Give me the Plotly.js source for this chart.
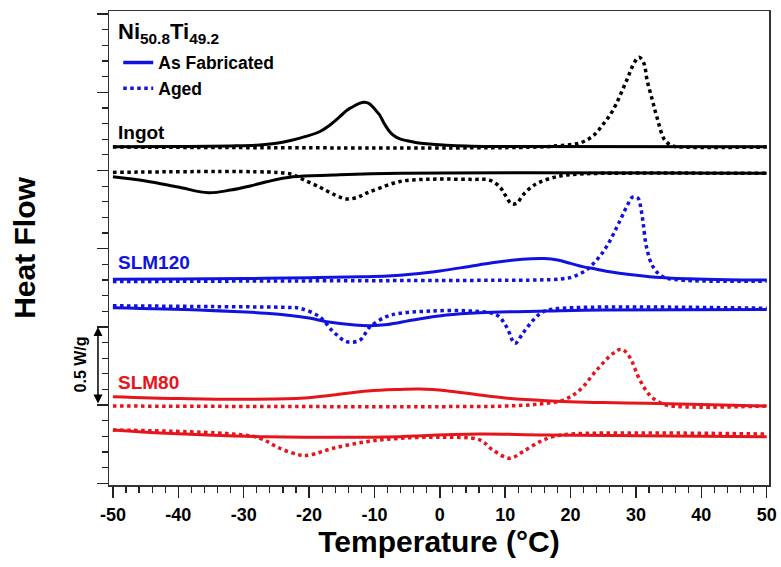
<!DOCTYPE html>
<html>
<head>
<meta charset="utf-8">
<script src="https://cdn.plot.ly/plotly-3.0.1.min.js"></script>
<style>
html,body{margin:0;padding:0;background:#fff;}
#chart{width:781px;height:567px;}
</style>
</head>
<body>
<div id="chart"></div>
<script>
// Temperature (°C) and stacked heat flow (W/g, offset)
const ingotHeatSolidT = [-50,-40,-32,-28,-25,-22.5,-20.5,-18.4,-17,-15.3,-14.2,-13.3,-12.3,-11.5,-10.8,-10.2,-9.6,-9.2,-8.5,-7.6,-7,-6.2,-5,-3.5,-1.5,1,4,8,50];
const ingotHeatSolidY = [2.152,2.153,2.157,2.162,2.174,2.195,2.218,2.248,2.285,2.344,2.385,2.408,2.429,2.436,2.428,2.405,2.375,2.355,2.300,2.245,2.222,2.204,2.190,2.178,2.170,2.162,2.156,2.153,2.152];

const ingotHeatAgedT = [-50,15,18.4,21.4,23.4,25,26.5,28.6,29.8,30.5,31.2,31.7,32.5,33.2,34.4,35.6,37,50];
const ingotHeatAgedY = [2.150,2.150,2.160,2.176,2.220,2.297,2.387,2.579,2.694,2.724,2.687,2.579,2.451,2.342,2.195,2.157,2.150,2.150];

const ingotCoolSolidT = [-50,-45,-40,-35.4,-32,-29,-26.5,-22.5,-16.3,-6,50];
const ingotCoolSolidY = [1.960,1.933,1.894,1.858,1.875,1.901,1.928,1.960,1.971,1.982,1.982];

const ingotCoolAgedT = [-50,-25,-22.5,-21.4,-18.4,-16,-14.2,-12.5,-11.2,-9.2,-6.1,-2.6,1,5,7.6,9.2,10,11,11.8,12.7,14,15.3,18.4,21.4,25,50];
const ingotCoolAgedY = [1.988,1.988,1.974,1.952,1.894,1.843,1.818,1.830,1.856,1.888,1.930,1.943,1.945,1.943,1.939,1.894,1.843,1.786,1.792,1.843,1.894,1.926,1.965,1.977,1.982,1.982];

const slm120HeatSolidT = [-50,-40,-30,-20,-12,-8,-4,0,4,8,11,14,16,18,20,22,24,26,29,33,38,44,50];
const slm120HeatSolidY = [1.304,1.306,1.309,1.315,1.320,1.325,1.338,1.358,1.383,1.410,1.426,1.436,1.437,1.428,1.406,1.384,1.369,1.353,1.335,1.318,1.308,1.302,1.300];

const slm120HeatAgedT = [-50,-30,0,15,18.5,20.4,22.4,24,25.5,27.6,28.7,29.5,30.3,30.8,31.1,31.6,32.6,34.1,36.7,50];
const slm120HeatAgedY = [1.290,1.293,1.297,1.300,1.306,1.321,1.364,1.428,1.513,1.683,1.779,1.830,1.824,1.747,1.664,1.513,1.385,1.321,1.300,1.293];

const slm120CoolSolidT = [-50,-36.8,-26.6,-20,-17.3,-13,-10.7,-8,-4.1,1,6.1,16.3,25,50];
const slm120CoolSolidY = [1.123,1.108,1.087,1.057,1.033,1.012,1.008,1.015,1.044,1.076,1.091,1.101,1.108,1.111];

const slm120CoolAgedT = [-50,-35,-23,-21.4,-18.4,-16.3,-14.2,-12.2,-10.7,-8.2,-6.1,-1.5,4.1,8.7,10.2,11.5,12.7,14.3,15.8,18,50];
const slm120CoolAgedY = [1.135,1.130,1.124,1.119,1.065,0.969,0.905,0.916,0.999,1.065,1.087,1.101,1.103,1.076,1.001,0.895,0.959,1.044,1.097,1.117,1.119];

const slm80HeatSolidT = [-50,-40,-31.6,-21.4,-16.3,-11,-6.1,-3,1,6.1,10,16.3,25,31.6,40,50];
const slm80HeatSolidY = [0.554,0.542,0.537,0.543,0.564,0.590,0.600,0.603,0.592,0.564,0.545,0.528,0.516,0.511,0.504,0.494];

const slm80HeatAgedT = [-50,0,10,15.3,18.9,21.4,24,26.5,27.8,29,30.6,32.1,34.1,36.7,50];
const slm80HeatAgedY = [0.494,0.490,0.494,0.507,0.532,0.596,0.724,0.831,0.857,0.809,0.660,0.564,0.507,0.490,0.494];

const slm80CoolSolidT = [-50,-41.9,-26.6,-6.1,-4.1,6.1,16.3,50];
const slm80CoolSolidY = [0.341,0.320,0.298,0.298,0.302,0.315,0.309,0.298];

const slm80CoolAgedT = [-50,-31.6,-27.5,-24.5,-21.4,-19.9,-16.3,-11.2,-6.1,0,6.1,8.1,10.7,12.7,15.3,17.3,20,50];
const slm80CoolAgedY = [0.341,0.315,0.288,0.224,0.181,0.181,0.224,0.266,0.288,0.294,0.277,0.213,0.160,0.202,0.266,0.298,0.315,0.315];

const xTicks = [-50,-40,-30,-20,-10,0,10,20,30,40,50];
const yTicks = [0,0.5,1.0,1.5,2.0,2.5,3.0];

const BLACK = '#000000', BLUE = '#1212e0', RED = '#e8141c';

function tr(x, y, color, dotted) {
  return {
    x: x, y: y, type: 'scatter', mode: 'lines', showlegend: false, hoverinfo: 'skip',
    line: {color: color, width: dotted ? 3.5 : 3, dash: dotted ? 'dot' : 'solid', shape: 'spline', smoothing: 1}
  };
}

const data = [
  tr(ingotHeatAgedT, ingotHeatAgedY, BLACK, true),
  tr(ingotHeatSolidT, ingotHeatSolidY, BLACK, false),
  tr(ingotCoolAgedT, ingotCoolAgedY, BLACK, true),
  tr(ingotCoolSolidT, ingotCoolSolidY, BLACK, false),
  tr(slm120HeatAgedT, slm120HeatAgedY, BLUE, true),
  tr(slm120HeatSolidT, slm120HeatSolidY, BLUE, false),
  tr(slm120CoolAgedT, slm120CoolAgedY, BLUE, true),
  tr(slm120CoolSolidT, slm120CoolSolidY, BLUE, false),
  tr(slm80HeatAgedT, slm80HeatAgedY, RED, true),
  tr(slm80HeatSolidT, slm80HeatSolidY, RED, false),
  tr(slm80CoolAgedT, slm80CoolAgedY, RED, true),
  tr(slm80CoolSolidT, slm80CoolSolidY, RED, false),
  {x:[null], y:[null], type:'scatter', mode:'lines', name:'As Fabricated', showlegend:true,
   line:{color:BLUE, width:3.5, dash:'solid'}},
  {x:[null], y:[null], type:'scatter', mode:'lines', name:'Aged', showlegend:true,
   line:{color:BLUE, width:3.5, dash:'dot'}}
];

const FONT = 'Liberation Sans, Arial, sans-serif';

const layout = {
  width: 781, height: 567,
  margin: {l: 109, r: 12, t: 11, b: 82},
  paper_bgcolor: '#fff', plot_bgcolor: '#fff',
  font: {family: FONT, color: '#000'},
  showlegend: true,
  legend: {
    x: 0.014, y: 0.929, xanchor: 'left', yanchor: 'top',
    bgcolor: 'rgba(0,0,0,0)', borderwidth: 0,
    font: {family: FONT, size: 17.5, weight: 'bold', color: '#000'},
    itemwidth: 30, tracegroupgap: 0
  },
  xaxis: {
    range: [-50.6, 50.35],
    tickvals: xTicks, ticktext: xTicks.map(String),
    ticks: 'outside', ticklen: 11, tickwidth: 1.5, tickcolor: '#222',
    minor: {dtick: 2, ticks: 'outside', ticklen: 6, tickwidth: 1.2, tickcolor: '#222', showgrid: false},
    showline: true, linecolor: '#333', linewidth: 1.5, mirror: true,
    showgrid: false, zeroline: false,
    tickfont: {family: FONT, size: 18, weight: 'bold', color: '#000'},
    ticklabelstandoff: 2,
    title: {text: 'Temperature (°C)', font: {family: FONT, size: 30, weight: 'bold', color: '#000'}, standoff: 5}
  },
  yaxis: {
    range: [-0.011, 3.020],
    tickvals: yTicks, showticklabels: false,
    ticks: 'outside', ticklen: 11, tickwidth: 1.5, tickcolor: '#222',
    minor: {dtick: 0.1, ticks: 'outside', ticklen: 6, tickwidth: 1.2, tickcolor: '#222', showgrid: false},
    showline: true, linecolor: '#333', linewidth: 1.5, mirror: true,
    showgrid: false, zeroline: false,
    title: {text: 'Heat Flow', font: {family: FONT, size: 30, weight: 'bold', color: '#000'}, standoff: 52}
  },
  annotations: [
    {xref: 'paper', yref: 'paper', x: 0.010, y: 0.953, xanchor: 'left', yanchor: 'middle', showarrow: false,
     text: 'Ni<sub>50.8</sub>Ti<sub>49.2</sub>', font: {family: FONT, size: 22, weight: 'bold', color: '#000'}},
    {xref: 'x', yref: 'y', x: -49.6, y: 2.24, xanchor: 'left', yanchor: 'middle', showarrow: false,
     text: 'Ingot', font: {family: FONT, size: 19, weight: 'bold', color: BLACK}},
    {xref: 'x', yref: 'y', x: -49.6, y: 1.409, xanchor: 'left', yanchor: 'middle', showarrow: false,
     text: 'SLM120', font: {family: FONT, size: 19, weight: 'bold', color: BLUE}},
    {xref: 'x', yref: 'y', x: -49.6, y: 0.643, xanchor: 'left', yanchor: 'middle', showarrow: false,
     text: 'SLM80', font: {family: FONT, size: 19, weight: 'bold', color: RED}},
    {xref: 'paper', yref: 'y', x: -0.0167, y: 1.0, axref: 'pixel', ax: 0, ayref: 'y', ay: 0.5,
     text: '', showarrow: true, arrowside: 'end+start', arrowhead: 2, arrowsize: 1.2, arrowwidth: 1.5, arrowcolor: '#000',
     startarrowhead: 2, startarrowsize: 1.2},
    {xref: 'paper', yref: 'y', x: -0.0439, y: 0.76, xanchor: 'center', yanchor: 'middle', showarrow: false,
     textangle: -90, text: '0.5 W/g', font: {family: FONT, size: 16, weight: 'bold', color: '#000'}}
  ]
};

Plotly.newPlot('chart', data, layout, {staticPlot: true, displayModeBar: false});
</script>
</body>
</html>
